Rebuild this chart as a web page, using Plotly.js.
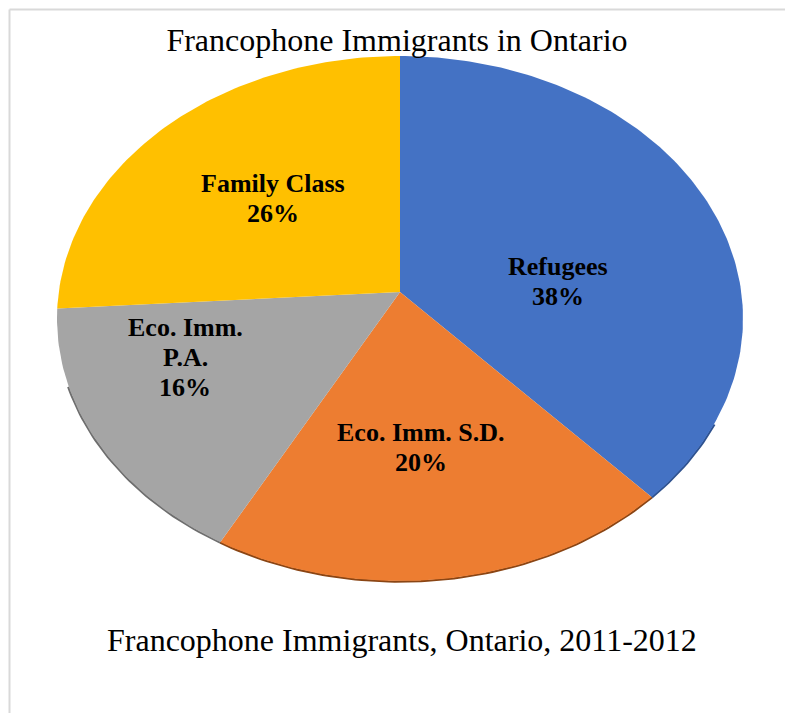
<!DOCTYPE html>
<html>
<head>
<meta charset="utf-8">
<script src="https://cdn.plot.ly/plotly-3.0.1.min.js"></script>
<style>html,body{margin:0;padding:0;background:#fff;}#chart{width:785px;height:713px;}</style>
</head>
<body>
<div id="chart"></div>
<script>
// ---- data ----
const categories = ['Refugees', 'Eco. Imm. S.D.', 'Eco. Imm. P.A.', 'Family Class'];
const labelNames = ['Refugees', 'Eco. Imm. S.D.', 'Eco. Imm.|P.A.', 'Family Class'];
const shares = [38, 20, 16, 26];
const chartTitle = 'Francophone Immigrants in Ontario';
const caption = 'Francophone Immigrants, Ontario, 2011-2012';

// ---- style ----
const colors = ['#4472C4', '#ED7D31', '#A5A5A5', '#FFC000'];
const rimColors = ['#2F528F', '#8A4514', '#6E6E6E', '#BF9000'];
const geom = {cx: 400, cy: 318.5, rx: 343, ry: 262.5, apexDrop: 26.5};
const labelAnchor = [[558, 281], [421, 447], [185, 357], [273, 198]];
const lineGap = 30;
const serif = 'Liberation Serif, Times New Roman, serif';

// point on tilted ellipse edge seen from apex in direction theta (deg, clockwise from top)
function edgePoint(thetaDeg, grow) {
  const th = thetaDeg * Math.PI / 180;
  const s = Math.sin(th), c = -Math.cos(th);
  const k = geom.apexDrop / geom.ry;
  const t = k * c + Math.sqrt(k * k * c * c - k * k + 1);
  const rX = geom.rx + (grow || 0), rY = geom.ry + (grow || 0);
  return [geom.cx + rX * t * s, geom.cy + rY * (-k + t * c)];
}
const apex = [geom.cx, geom.cy - geom.apexDrop];

const total = shares.reduce((a, b) => a + b, 0);
const rimTraces = [], sliceTraces = [];
let cum = 0;
shares.forEach((v, i) => {
  const a0 = cum / total * 360, a1 = (cum + v) / total * 360;
  cum += v;
  const xs = [apex[0]], ys = [apex[1]];
  const rx = [], ry = [];
  const n = Math.max(8, Math.ceil((a1 - a0) / 1));
  for (let j = 0; j <= n; j++) {
    const a = a0 + (a1 - a0) * j / n;
    const p = edgePoint(a);
    xs.push(p[0]); ys.push(p[1]);
    if (a > 118 && a < 250) {
      const q = edgePoint(a, 0.6);
      rx.push(q[0]); ry.push(q[1]);
    }
  }
  xs.push(apex[0]); ys.push(apex[1]);
  if (rx.length > 1) {
    rimTraces.push({type: 'scatter', mode: 'lines', x: rx, y: ry, hoverinfo: 'skip',
      line: {color: rimColors[i], width: 2.2}, showlegend: false});
  }
  sliceTraces.push({type: 'scatter', mode: 'lines', x: xs, y: ys, fill: 'toself',
    fillcolor: colors[i], line: {width: 0, color: colors[i]}, name: categories[i],
    hoveron: 'fills', text: categories[i] + ': ' + v + '%', hoverinfo: 'text', showlegend: false});
});

const annotations = [];
shares.forEach((v, i) => {
  const lines = labelNames[i].split('|').concat([v + '%']);
  lines.forEach((ln, j) => {
    annotations.push({
      x: labelAnchor[i][0], y: labelAnchor[i][1] + (j - (lines.length - 1) / 2) * lineGap,
      xref: 'x', yref: 'y', text: ln, showarrow: false,
      font: {family: serif, size: 26, color: '#000', weight: 'bold'}, align: 'center'
    });
  });
});
annotations.push({x: 402, y: 640, xref: 'x', yref: 'y', text: caption, showarrow: false,
  font: {family: serif, size: 32, color: '#000'}});

const layout = {
  width: 785, height: 713,
  margin: {l: 0, r: 0, t: 0, b: 0},
  paper_bgcolor: '#fff', plot_bgcolor: '#fff',
  title: {text: chartTitle, font: {family: serif, size: 32, color: '#000'},
    x: 397 / 785, xanchor: 'center', y: 1 - 40 / 713, yanchor: 'middle'},
  xaxis: {range: [0, 785], visible: false, fixedrange: true},
  yaxis: {range: [713, 0], visible: false, fixedrange: true},
  showlegend: false,
  annotations: annotations,
  shapes: [
    {type: 'line', xref: 'x', yref: 'y', x0: 9.5, y0: 9.5, x1: 785, y1: 9.5, line: {color: '#d9d9d9', width: 2}},
    {type: 'line', xref: 'x', yref: 'y', x0: 9.5, y0: 9.5, x1: 9.5, y1: 713, line: {color: '#d9d9d9', width: 2}}
  ]
};

Plotly.newPlot('chart', rimTraces.concat(sliceTraces), layout, {displayModeBar: false});
</script>
</body>
</html>
